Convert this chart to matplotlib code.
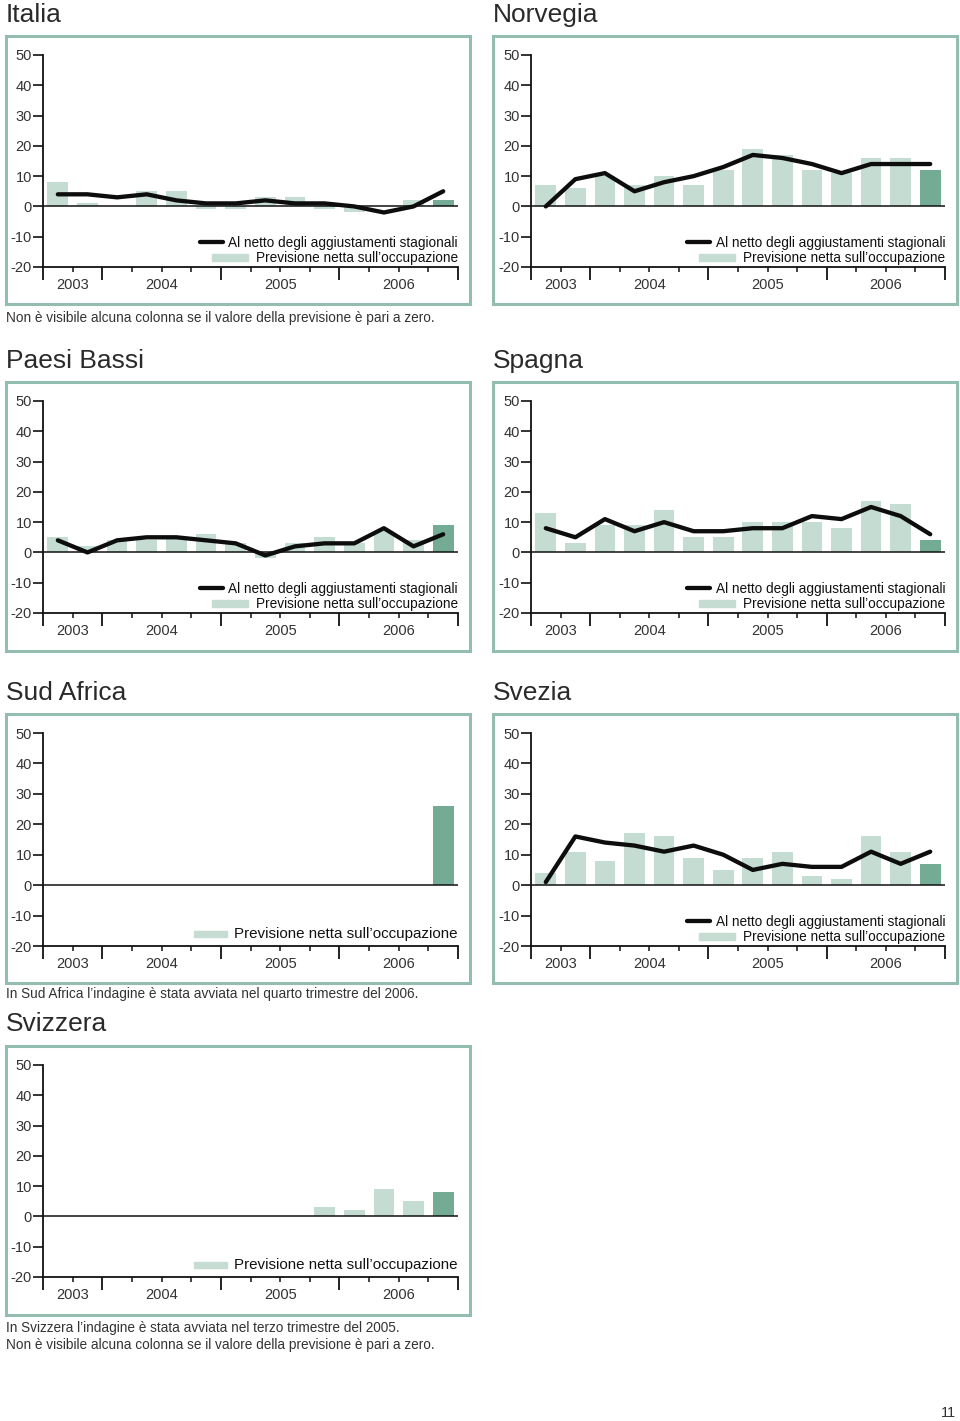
import numpy as np
import matplotlib
matplotlib.use("Agg")
import matplotlib.pyplot as plt
from matplotlib.patches import Rectangle
from matplotlib.lines import Line2D
from matplotlib.transforms import IdentityTransform

plt.rcParams['font.family'] = ['Liberation Sans', 'DejaVu Sans']

# ---------------- data ----------------
years = ["2003", "2004", "2005", "2006"]
yticks = [-20, -10, 0, 10, 20, 30, 40, 50]
nan = np.nan

italia_bars = [8, 1, 0, 5, 5, -1, -1, 3, 3, -1, -2, 0, 2, 2]
italia_line = [4, 4, 3, 4, 2, 1, 1, 2, 1, 1, 0, -2, 0, 5]
norvegia_bars = [7, 6, 10, 7, 10, 7, 12, 19, 17, 12, 11, 16, 16, 12]
norvegia_line = [0, 9, 11, 5, 8, 10, 13, 17, 16, 14, 11, 14, 14, 14]
paesi_bars = [5, 2, 4, 4, 5, 6, 3, -2, 3, 5, 3, 7, 4, 9]
paesi_line = [4, 0, 4, 5, 5, 4, 3, -1, 2, 3, 3, 8, 2, 6]
spagna_bars = [13, 3, 9, 9, 14, 5, 5, 10, 10, 10, 8, 17, 16, 4]
spagna_line = [8, 5, 11, 7, 10, 7, 7, 8, 8, 12, 11, 15, 12, 6]
sudafrica_bars = [nan, nan, nan, nan, nan, nan, nan, nan, nan, nan, nan, nan, nan, 26]
svezia_bars = [4, 11, 8, 17, 16, 9, 5, 9, 11, 3, 2, 16, 11, 7]
svezia_line = [1, 16, 14, 13, 11, 13, 10, 5, 7, 6, 6, 11, 7, 11]
svizzera_bars = [nan, nan, nan, nan, nan, nan, nan, nan, nan, 3, 2, 9, 5, 8]

legend_line = "Al netto degli aggiustamenti stagionali"
legend_bar = "Previsione netta sull\u2019occupazione"

# ---------------- style ----------------
W, H = 960, 1421
LIGHT = "#c4dcd1"
DARK = "#74ab95"
FRAME = "#93bdb0"
TXT = "#2a2a2a"

fig = plt.figure(figsize=(W / 100, H / 100), dpi=100)
fig.patch.set_facecolor("white")


def fx(x):
    return x / W


def fy(y):
    return 1 - y / H


def frame(x0, y0, x1, y1):
    r = Rectangle((fx(x0), fy(y1)), fx(x1 - x0), (y1 - y0) / H,
                  transform=fig.transFigure, fill=False, edgecolor=FRAME,
                  linewidth=2.2, zorder=0)
    fig.add_artist(r)


def panel(title, col, row, bars, line=None):
    colx = [(6, 470, 43, 458), (493, 957, 531, 945)][col]
    rows = [(36, 304, 55, 267, 15), (382, 651, 401, 613, 361),
            (714, 983, 733, 946, 693), (1046, 1315, 1065, 1277, 1024)]
    fx0, fx1, ax0, ax1 = colx
    fy0, fy1, ay0, ay1, ty = rows[row]
    frame(fx0, fy0, fx1, fy1)
    fig.text(fx(fx0), fy(ty), title, fontsize=19, color=TXT,
             ha="left", va="center")
    ax = fig.add_axes([fx(ax0), fy(ay1), fx(ax1 - ax0), (ay1 - ay0) / H])
    ax.set_xlim(0, 14)
    ax.set_ylim(-20, 50)
    ax.patch.set_alpha(0)
    for s in ["top", "right"]:
        ax.spines[s].set_visible(False)
    for s in ["left", "bottom"]:
        ax.spines[s].set_linewidth(1.3)
        ax.spines[s].set_color("#111111")
    ax.set_yticks(yticks)
    ax.set_yticklabels([str(v) for v in yticks], fontsize=10.5, color="#333333")
    ax.tick_params(axis="y", length=7, width=1.2, pad=1.0, color="#111111")
    ax.set_xticks([0, 2, 6, 10, 14])
    ax.set_xticklabels([])
    ax.set_xticks([1, 3, 4, 5, 7, 8, 9, 11, 12, 13], minor=True)
    ax.tick_params(axis="x", which="major", length=9.5, width=1.3, color="#111111")
    ax.tick_params(axis="x", which="minor", length=3.5, width=1.1, color="#111111")
    for xpos, lab in zip([1, 4, 8, 12], years):
        ax.text(xpos, -0.085, lab, transform=ax.get_xaxis_transform(),
                ha="center", va="center", fontsize=10.5, color="#333333")

    xs = np.arange(len(bars)) + 0.5
    vals = np.array(bars, dtype=float)
    colors = [LIGHT] * (len(bars) - 1) + [DARK]
    ax.bar(xs, np.nan_to_num(vals), width=0.7, color=colors, zorder=1)
    ax.axhline(0, color="#111111", linewidth=1.1, zorder=2)
    if line is not None:
        ax.plot(xs, line, color="#0d0d0d", linewidth=3.1, zorder=3,
                solid_joinstyle="round", solid_capstyle="round")

    # legend (manual)
    renderer = fig.canvas.get_renderer()
    if line is not None:
        t1 = ax.text(14, 0.112, legend_line, transform=ax.get_xaxis_transform(),
                     ha="right", va="center", fontsize=9.8, color="#111111")
        t2 = ax.text(14, 0.044, legend_bar, transform=ax.get_xaxis_transform(),
                     ha="right", va="center", fontsize=9.8, color="#111111")
        b1 = t1.get_window_extent(renderer)
        b2 = t2.get_window_extent(renderer)
        yc1 = (b1.y0 + b1.y1) / 2
        fig.add_artist(Line2D([b1.x0 - 29, b1.x0 - 6], [yc1 + 1, yc1 + 1],
                              transform=IdentityTransform(), color="#0d0d0d",
                              linewidth=3.1, solid_capstyle="round"))
        yc2 = (b2.y0 + b2.y1) / 2
        fig.add_artist(Rectangle((b2.x0 - 44, yc2 - 3), 36, 7,
                                 transform=IdentityTransform(), color=LIGHT))
    else:
        t2 = ax.text(14, 0.055, legend_bar, transform=ax.get_xaxis_transform(),
                     ha="right", va="center", fontsize=10.9, color="#111111")
        b2 = t2.get_window_extent(renderer)
        yc2 = (b2.y0 + b2.y1) / 2
        fig.add_artist(Rectangle((b2.x0 - 41, yc2 - 3), 33, 6,
                                 transform=IdentityTransform(), color=LIGHT))
    return ax


panel("Italia", 0, 0, italia_bars, italia_line)
panel("Norvegia", 1, 0, norvegia_bars, norvegia_line)
panel("Paesi Bassi", 0, 1, paesi_bars, paesi_line)
panel("Spagna", 1, 1, spagna_bars, spagna_line)
panel("Sud Africa", 0, 2, sudafrica_bars, None)
panel("Svezia", 1, 2, svezia_bars, svezia_line)
panel("Svizzera", 0, 3, svizzera_bars, None)

note_kw = dict(fontsize=9.8, color="#333333", ha="left", va="center")
fig.text(fx(6), fy(318), "Non \u00e8 visibile alcuna colonna se il valore della previsione \u00e8 pari a zero.", **note_kw)
fig.text(fx(6), fy(994), "In Sud Africa l\u2019indagine \u00e8 stata avviata nel quarto trimestre del 2006.", **note_kw)
fig.text(fx(6), fy(1328), "In Svizzera l\u2019indagine \u00e8 stata avviata nel terzo trimestre del 2005.", **note_kw)
fig.text(fx(6), fy(1345), "Non \u00e8 visibile alcuna colonna se il valore della previsione \u00e8 pari a zero.", **note_kw)
fig.text(fx(956), fy(1413), "11", fontsize=10.5, color="#333333", ha="right", va="center")

fig.savefig("out.png", dpi=100, facecolor="white")
